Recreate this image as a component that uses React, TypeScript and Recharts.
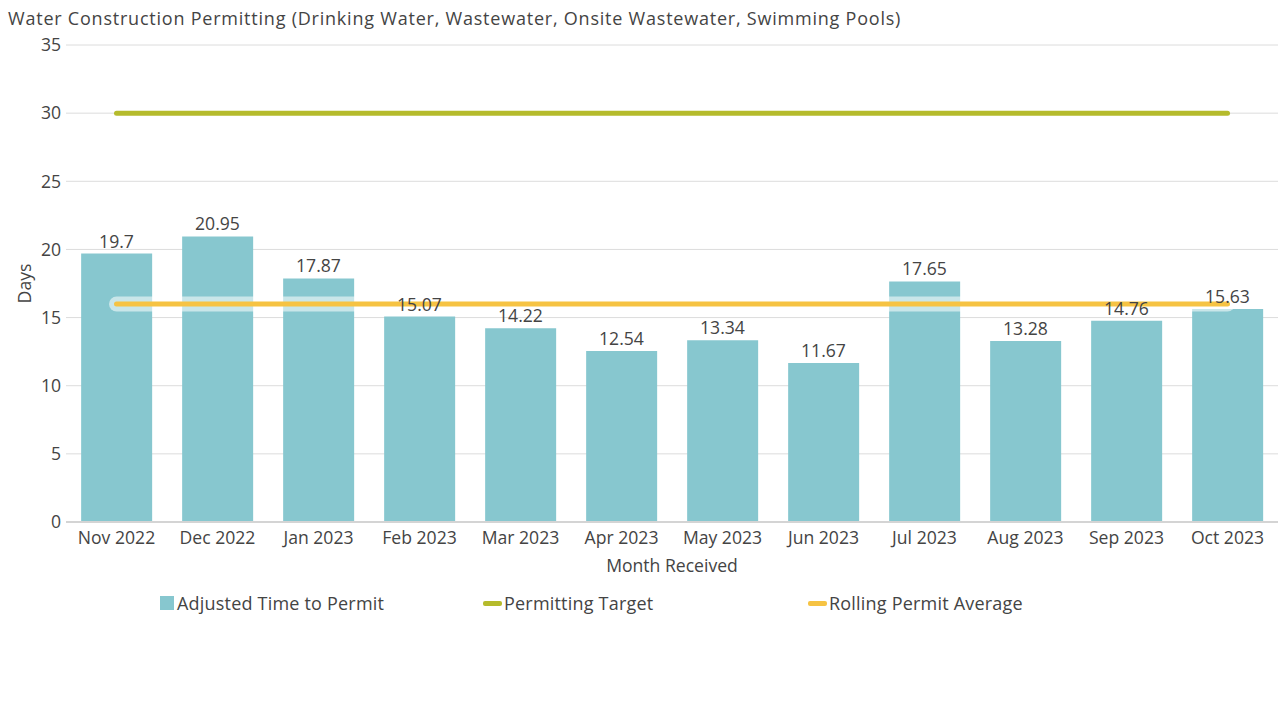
import React from 'react';
import { ComposedChart, Bar, Line, XAxis, YAxis, CartesianGrid, LabelList } from 'recharts';

const months = ['Nov 2022', 'Dec 2022', 'Jan 2023', 'Feb 2023', 'Mar 2023', 'Apr 2023', 'May 2023', 'Jun 2023', 'Jul 2023', 'Aug 2023', 'Sep 2023', 'Oct 2023'];
const adjustedTime = [19.7, 20.95, 17.87, 15.07, 14.22, 12.54, 13.34, 11.67, 17.65, 13.28, 14.76, 15.63];
const permittingTarget = [30, 30, 30, 30, 30, 30, 30, 30, 30, 30, 30, 30];
const rollingAverage = [16, 16, 16, 16, 16, 16, 16, 16, 16, 16, 16, 16];
const yTicks = [0, 5, 10, 15, 20, 25, 30, 35];

const data = months.map((m, i) => ({
  month: m,
  adjusted: adjustedTime[i],
  target: permittingTarget[i],
  rolling: rollingAverage[i],
}));

const FONT = '"Open Sans", sans-serif';
const TEXT = '#444444';
const BAR = '#87C7CF';
const TARGET = '#B5BB2C';
const ROLLING = '#F6C343';
const FS = 17.6;

const DaysLabel = (props: any) => {
  const vb = props.viewBox || {};
  const x = (vb.x ?? 0) + 24;
  const y = (vb.y ?? 0) + (vb.height ?? 0) / 2;
  return (
    <text x={x} y={y} transform={`rotate(-90 ${x} ${y})`} textAnchor="middle" dominantBaseline="central" fill={TEXT} fontSize={FS} fontFamily={FONT}>
      Days
    </text>
  );
};

const legendItem: React.CSSProperties = {
  position: 'absolute', top: 593, height: 20, display: 'flex', alignItems: 'center',
  fontSize: 18, letterSpacing: 0.2, color: TEXT, whiteSpace: 'nowrap',
};

export default function App() {
  return (
    <div style={{ position: 'absolute', left: 0, top: 0, width: 1285, height: 701, background: '#fff', fontFamily: FONT }}>
      <div style={{ position: 'absolute', left: 8, top: 5, fontSize: 18, letterSpacing: 0.78, lineHeight: '26px', color: TEXT, whiteSpace: 'nowrap' }}>
        Water Construction Permitting (Drinking Water, Wastewater, Onsite Wastewater, Swimming Pools)
      </div>
      <ComposedChart width={1285} height={701} data={data} margin={{ top: 45, right: 7, left: 0, bottom: 129 }} barCategoryGap="15%">
        <CartesianGrid vertical={false} stroke="#dcdcdc" />
        <XAxis
          dataKey="month"
          height={50}
          tickLine={false}
          axisLine={{ stroke: '#d4d4d4', strokeWidth: 2 }}
          tick={{ fill: TEXT, fontSize: FS, fontFamily: FONT }}
          tickMargin={4}
          interval={0}
          label={{ value: 'Month Received', position: 'insideBottom', offset: 0, fill: TEXT, fontSize: FS, fontFamily: FONT }}
        />
        <YAxis
          width={66}
          domain={[0, 35]}
          ticks={yTicks}
          tickLine={false}
          axisLine={false}
          tickSize={0}
          tickMargin={5}
          tick={{ fill: TEXT, fontSize: FS, fontFamily: FONT }}
          label={<DaysLabel />}
        />
        <Bar dataKey="adjusted" fill={BAR} isAnimationActive={false} />
        <Line dataKey="target" stroke={TARGET} strokeWidth={5} strokeLinecap="round" dot={false} activeDot={false} isAnimationActive={false} />
        <Line dataKey="rolling" stroke="#ffffff" strokeOpacity={0.55} strokeWidth={15} strokeLinecap="round" dot={false} activeDot={false} isAnimationActive={false} legendType="none" />
        <Line dataKey="rolling" stroke={ROLLING} strokeWidth={5} strokeLinecap="round" dot={false} activeDot={false} isAnimationActive={false} />
        <Line dataKey="adjusted" stroke="none" dot={false} activeDot={false} isAnimationActive={false} legendType="none">
          <LabelList dataKey="adjusted" position="top" offset={6} fill={TEXT} fontSize={FS} fontFamily={FONT} />
        </Line>
      </ComposedChart>
      <div style={{ ...legendItem, left: 160 }}>
        <span style={{ display: 'inline-block', width: 14, height: 14, background: BAR, marginRight: 3 }} />
        Adjusted Time to Permit
      </div>
      <div style={{ ...legendItem, left: 483 }}>
        <span style={{ display: 'inline-block', width: 19, height: 5, background: TARGET, borderRadius: 2, marginRight: 2 }} />
        Permitting Target
      </div>
      <div style={{ ...legendItem, left: 808 }}>
        <span style={{ display: 'inline-block', width: 19, height: 5, background: ROLLING, borderRadius: 2, marginRight: 2 }} />
        Rolling Permit Average
      </div>
    </div>
  );
}
